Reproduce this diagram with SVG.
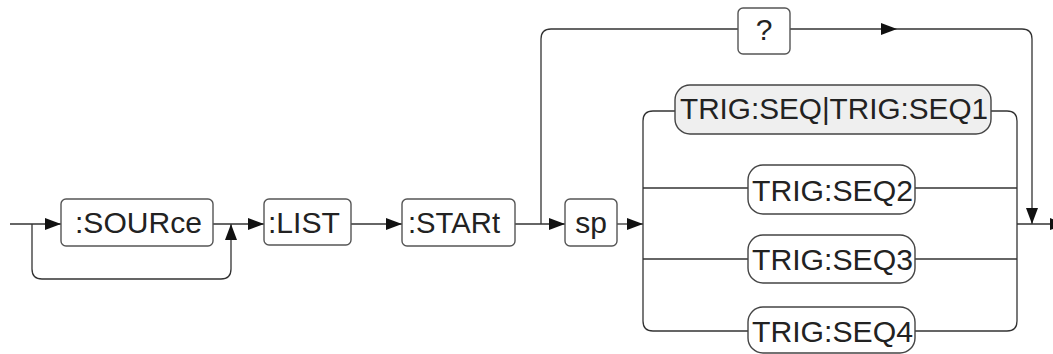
<svg xmlns="http://www.w3.org/2000/svg" width="1053" height="354" viewBox="0 0 1053 354">
<style>
.box{fill:#fff;stroke:#555;stroke-width:1.4}
.opt{fill:#fff;stroke:#444;stroke-width:1.4}
.sel{fill:#efefef;stroke:#444;stroke-width:1.4}
.t{font-family:"Liberation Sans",Arial,sans-serif;font-size:30px;fill:#222}
.w{fill:none;stroke:#333;stroke-width:1.3}
</style>
<defs>
<marker id="ah" viewBox="0 0 16 12" refX="16" refY="6" markerWidth="16" markerHeight="12" markerUnits="userSpaceOnUse" orient="auto">
<path d="M0,0 L16,6 L0,12 Z" fill="#111"/>
</marker>
</defs>
<g id="connectors" class="w">
<path d="M10,224 H61" marker-end="url(#ah)"/>
<path d="M32,224 V269 Q32,279 42,279 H221 Q231,279 231,269 V224" marker-end="url(#ah)"/>
<path d="M213,224 H264" marker-end="url(#ah)"/>
<path d="M351,224 H402" marker-end="url(#ah)"/>
<path d="M515,224 H565" marker-end="url(#ah)"/>
<path d="M541,224 V39 Q541,29 551,29 H738"/>
<path d="M790,29 H897" marker-end="url(#ah)"/>
<path d="M897,29 H1022 Q1032,29 1032,39 V224" marker-end="url(#ah)"/>
<path d="M617,224 H643" marker-end="url(#ah)"/>
<path d="M675,111 H653 Q643,111 643,121 V321 Q643,331 653,331 H748"/>
<path d="M643,188 H748"/>
<path d="M643,259 H748"/>
<path d="M991,111 H1007 Q1017,111 1017,121 V321 Q1017,331 1007,331 H915"/>
<path d="M915,188 H1017"/>
<path d="M915,259 H1017"/>
<path d="M1017,224 H1053"/>
<path d="M1050,218 L1066,224 L1050,230 Z" fill="#111" stroke="none"/>
</g>
<g id="source">
<rect class="box" x="61" y="199" width="152" height="47" rx="5"/>
<text class="t" x="75" y="233" textLength="127" lengthAdjust="spacingAndGlyphs">:SOURce</text>
</g>
<g id="list">
<rect class="box" x="264" y="199" width="87" height="46" rx="5"/>
<text class="t" x="268" y="233" textLength="72" lengthAdjust="spacingAndGlyphs">:LIST</text>
</g>
<g id="start">
<rect class="box" x="402" y="199" width="113" height="47" rx="5"/>
<text class="t" x="408" y="233" textLength="92" lengthAdjust="spacingAndGlyphs">:STARt</text>
</g>
<g id="sp">
<rect class="box" x="565" y="199" width="52" height="47" rx="5"/>
<text class="t" x="591" y="233" text-anchor="middle">sp</text>
</g>
<g id="query">
<rect class="box" x="738" y="8" width="52" height="46" rx="5"/>
<text class="t" x="764" y="40" text-anchor="middle">?</text>
</g>
<g id="seq1">
<rect class="sel" x="675" y="85" width="316" height="49" rx="15"/>
<text class="t" x="680" y="119" textLength="308" lengthAdjust="spacingAndGlyphs">TRIG:SEQ|TRIG:SEQ1</text>
</g>
<g id="seq2">
<rect class="opt" x="748" y="165" width="167" height="49" rx="15"/>
<text class="t" x="752" y="201" textLength="161" lengthAdjust="spacingAndGlyphs">TRIG:SEQ2</text>
</g>
<g id="seq3">
<rect class="opt" x="748" y="235" width="167" height="48" rx="15"/>
<text class="t" x="752" y="270" textLength="161" lengthAdjust="spacingAndGlyphs">TRIG:SEQ3</text>
</g>
<g id="seq4">
<rect class="opt" x="748" y="307" width="167" height="46" rx="15"/>
<text class="t" x="752" y="342" textLength="161" lengthAdjust="spacingAndGlyphs">TRIG:SEQ4</text>
</g>
</svg>
